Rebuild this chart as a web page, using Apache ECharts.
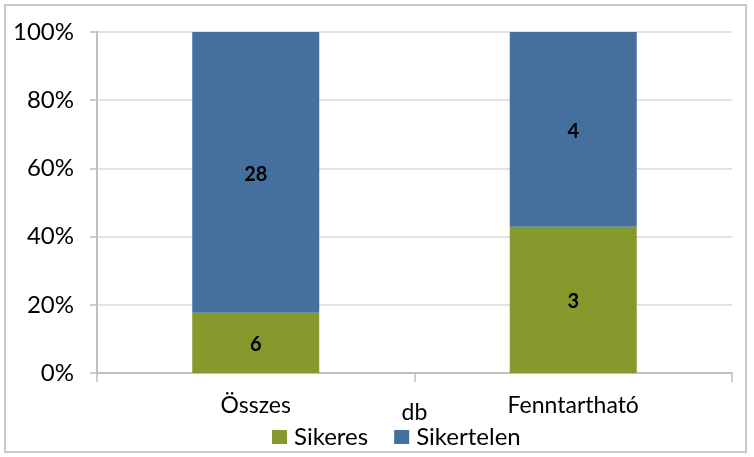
<!DOCTYPE html>
<html><head><meta charset="utf-8">
<script src="https://cdn.jsdelivr.net/npm/echarts@6/dist/echarts.min.js"></script>
<style>html,body{margin:0;padding:0;background:#fff}#c{width:754px;height:457px}
#b{position:absolute;left:4px;top:4px;width:743px;height:449px;border:2px solid #c8c8c8;box-sizing:border-box;pointer-events:none}</style>
</head><body><div id="c"></div><div id="b"></div>
<script>
const categories = ['Összes', 'Fenntartható'];
const sikeres = [6, 3];
const sikertelen = [28, 4];
const yTicks = [0, 20, 40, 60, 80, 100];

const totals = categories.map((_, i) => sikeres[i] + sikertelen[i]);
const pct = (arr) => arr.map((v, i) => ({ value: v / totals[i] * 100, count: v }));
const font = 'Lato, "Liberation Sans", sans-serif';

const chart = echarts.init(document.getElementById('c'));
chart.setOption({
  animation: false,
  textStyle: { fontFamily: font },
  grid: { left: 97, right: 22, top: 32, bottom: 84, containLabel: false },
  legend: {
    bottom: 3, left: 267, itemWidth: 15, itemHeight: 14, itemGap: 26,
    icon: 'rect',
    textStyle: { fontSize: 24, color: '#000', fontFamily: font, padding: [0, 0, 0, 2] },
    data: ['Sikeres', 'Sikertelen']
  },
  xAxis: {
    type: 'category', data: categories,
    name: 'db', nameLocation: 'middle', nameGap: 28, nameMoveOverlap: false,
    nameTextStyle: { fontSize: 23, color: '#000' },
    axisLine: { lineStyle: { color: '#bfbfbf', width: 2 } },
    axisTick: { show: true, length: 9, lineStyle: { color: '#bfbfbf', width: 1.5 } },
    axisLabel: { fontSize: 23, color: '#000', margin: 21 }
  },
  yAxis: {
    type: 'value', min: 0, max: 100, interval: 20,
    axisLine: { show: true, lineStyle: { color: '#bfbfbf', width: 2 } },
    axisTick: { show: true, length: 7, inside: false, lineStyle: { color: '#bfbfbf', width: 1.5 } },
    splitLine: { lineStyle: { color: '#d9d9d9', width: 1.5 } },
    axisLabel: { fontSize: 24, color: '#000', margin: 23,
      formatter: v => yTicks.includes(v) ? v + '%' : '' }
  },
  series: [
    { name: 'Sikeres', type: 'bar', stack: 's', barWidth: '40%',
      itemStyle: { color: '#86992D' }, data: pct(sikeres),
      label: { show: true, position: 'inside', offset: [0, 2], fontSize: 20, fontWeight: 'bold', color: '#000',
        formatter: p => p.data.count } },
    { name: 'Sikertelen', type: 'bar', stack: 's', barWidth: '40%',
      itemStyle: { color: '#45709E' }, data: pct(sikertelen),
      label: { show: true, position: 'inside', offset: [0, 2], fontSize: 20, fontWeight: 'bold', color: '#000',
        formatter: p => p.data.count } }
  ]
});
</script></body></html>
